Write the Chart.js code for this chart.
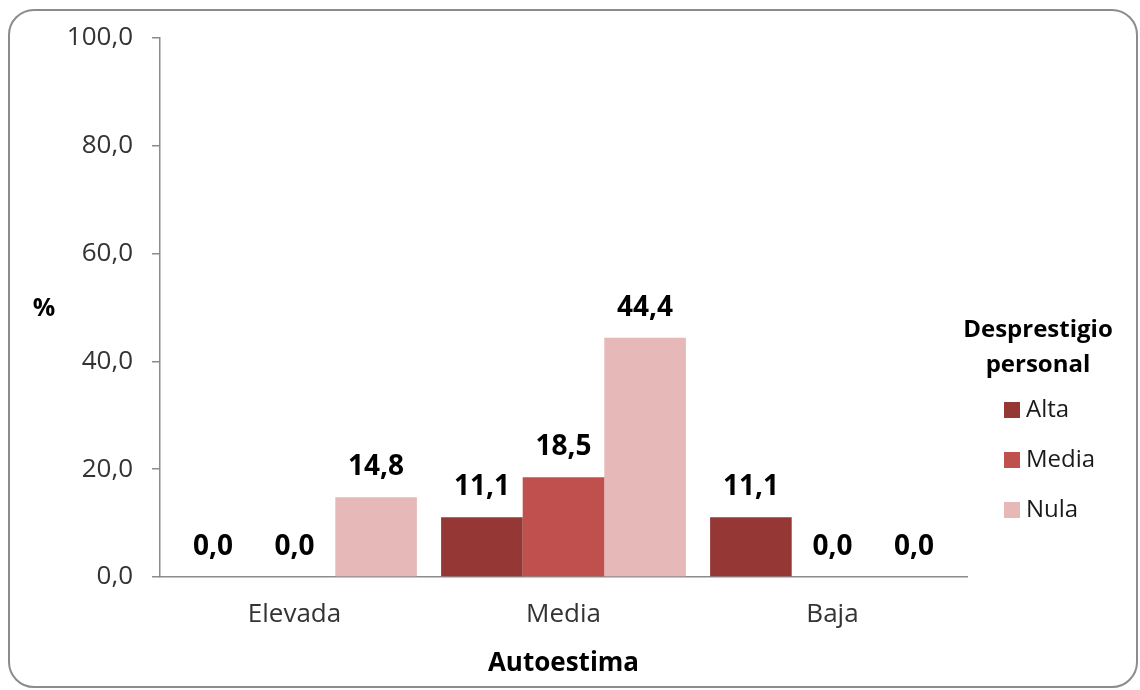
<!DOCTYPE html>
<html>
<head>
<meta charset="utf-8">
<script src="https://cdn.jsdelivr.net/npm/chart.js@4.4.1/dist/chart.umd.min.js"></script>
<style>
    body { margin: 0; background: #fff; }
    #wrap { position: relative; width: 1140px; height: 690px; }
    #frame {
        position: absolute; left: 8px; top: 9px; width: 1126px; height: 675px;
        border: 2px solid #8c8c8c; border-radius: 26px; pointer-events: none;
    }
</style>
</head>
<body>
<div id="wrap">
    <canvas id="myChart" width="1140" height="690"></canvas>
    <div id="frame"></div>
</div>
<script>
const categories = ['Elevada', 'Media', 'Baja'];
const seriesNames = ['Alta', 'Media', 'Nula'];
const alta = [0.0, 11.1, 11.1];
const media = [0.0, 18.5, 0.0];
const nula = [14.8, 44.4, 0.0];
const yTicks = [0, 20, 40, 60, 80, 100];
const colors = ['#953735', '#c0504d', '#e6b9b8'];

const FONT = '"Open Sans", "Liberation Sans", sans-serif';

function fmt(v) {
    return v.toFixed(1).replace('.', ',');
}

// value labels, "%" label and the legend block
const extras = {
    id: 'extras',
    afterDatasetsDraw(chart) {
        const ctx = chart.ctx;
        ctx.save();
        ctx.fillStyle = '#000';
        ctx.font = 'bold 28px ' + FONT;
        ctx.textAlign = 'center';
        ctx.textBaseline = 'middle';
        chart.data.datasets.forEach((ds, i) => {
            const meta = chart.getDatasetMeta(i);
            meta.data.forEach((bar, j) => {
                ctx.fillText(fmt(ds.data[j]), bar.x, bar.y - 30);
            });
        });

        ctx.font = 'bold 25px ' + FONT;
        ctx.fillStyle = '#000';
        ctx.fillText('%', 44, 309);

        // legend
        ctx.font = 'bold 24px ' + FONT;
        ctx.fillText('Desprestigio', 1038, 330);
        ctx.fillText('personal', 1038, 365);
        ctx.font = '24px ' + FONT;
        ctx.textAlign = 'left';
        chart.data.datasets.forEach((ds, i) => {
            const y = 410 + i * 50;
            ctx.fillStyle = ds.backgroundColor;
            ctx.fillRect(1004, y - 8, 16, 16);
            ctx.fillStyle = '#1a1a1a';
            ctx.fillText(ds.label, 1026, y);
        });
        ctx.restore();
    }
};

const ctx = document.getElementById('myChart').getContext('2d');
new Chart(ctx, {
    type: 'bar',
    data: {
        labels: categories,
        datasets: [
            { label: seriesNames[0], data: alta, backgroundColor: colors[0] },
            { label: seriesNames[1], data: media, backgroundColor: colors[1] },
            { label: seriesNames[2], data: nula, backgroundColor: colors[2] }
        ]
    },
    options: {
        responsive: false,
        animation: false,
        layout: { padding: { left: 0, top: 38, right: 173, bottom: 0 } },
        datasets: { bar: { categoryPercentage: 0.91, barPercentage: 1.0 } },
        plugins: {
            legend: { display: false },
            tooltip: { enabled: false }
        },
        scales: {
            x: {
                grid: { display: false, drawTicks: false },
                border: { display: true, color: '#8c8c8c', width: 1.5 },
                ticks: { color: '#333', padding: 22, font: { family: FONT, size: 26 } },
                title: {
                    display: true, text: 'Autoestima', color: '#000',
                    font: { family: FONT, size: 26, weight: 'bold' },
                    padding: { top: 0, bottom: 11 }
                },
                afterFit(scale) { scale.height = 113; }
            },
            y: {
                min: 0,
                max: 100,
                afterBuildTicks(scale) { scale.ticks = yTicks.map(v => ({ value: v })); },
                grid: { drawOnChartArea: false, drawTicks: true, tickLength: 8, color: '#8c8c8c', lineWidth: 1.5 },
                border: { display: true, color: '#8c8c8c', width: 1.5 },
                ticks: {
                    color: '#333', padding: 19, font: { family: FONT, size: 26 },
                    callback: v => fmt(v)
                },
                afterFit(scale) { scale.width = 160; }
            }
        }
    },
    plugins: [extras]
});
</script>
</body>
</html>
